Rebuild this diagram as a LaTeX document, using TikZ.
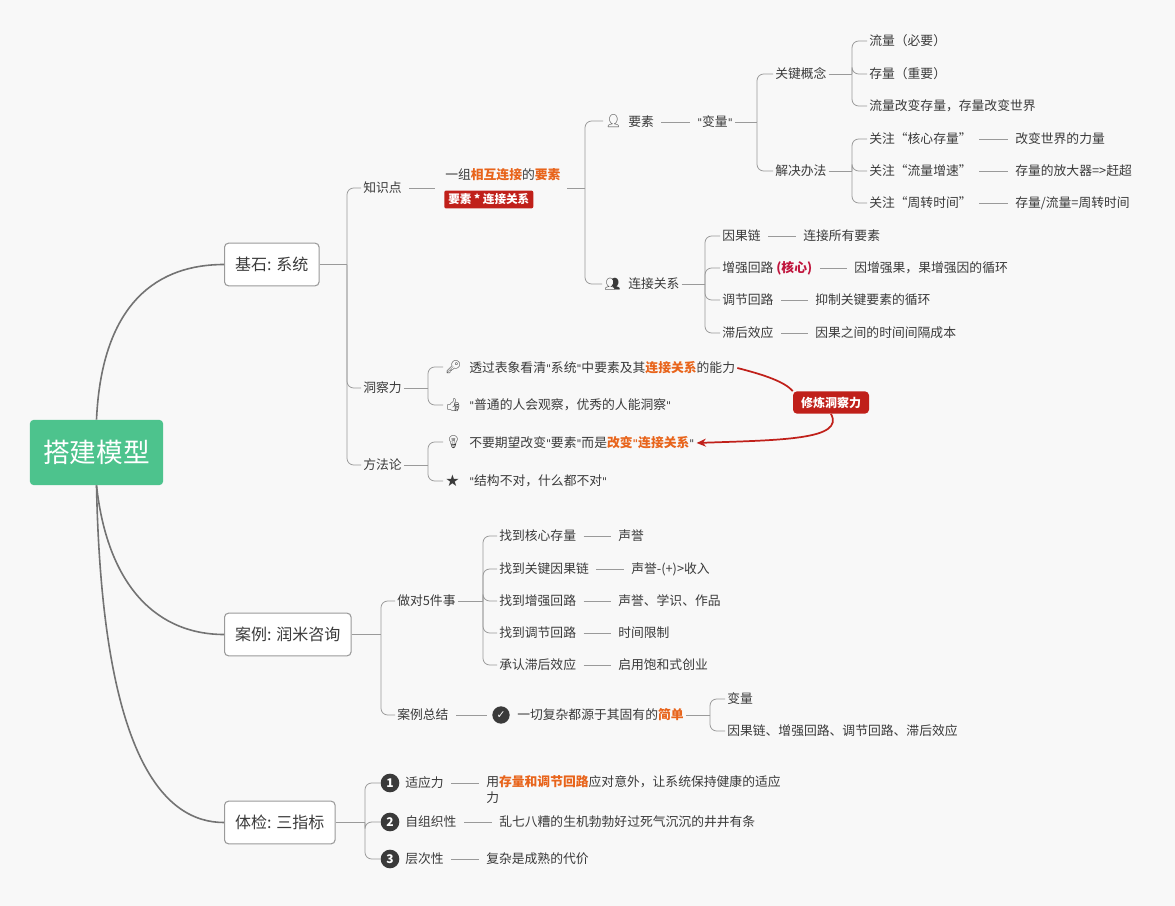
\documentclass[tikz,border=0pt]{standalone}
\usepackage{fontspec}
\defaultfontfeatures{}
\setmainfont{Noto Sans CJK SC}
\newfontfamily\emo{Noto Emoji}
\newfontfamily\dvs{DejaVu Sans}
\usetikzlibrary{arrows.meta}
\definecolor{bg}{HTML}{F8F8F8}
\definecolor{txt}{HTML}{3A3A3A}
\definecolor{lnc}{HTML}{9A9A9A}
\definecolor{org}{HTML}{E8641B}
\definecolor{tagred}{HTML}{C0201A}
\definecolor{crim}{HTML}{C0143C}
\definecolor{rootg}{HTML}{4DC38D}
\definecolor{icon}{HTML}{3A3A3A}
\newcommand\hl[1]{{\bfseries\color{org}#1}}
\newcommand\ico[1]{{\emo\bfseries\color{icon}#1}}
\newcommand\dq{{\dvs\fontsize{8}{10}\selectfont\char34}}
\begin{document}
\begin{tikzpicture}[x=0.75pt,y=-0.75pt,
  t/.style={anchor=west,inner sep=1.5pt,font=\fontsize{9.6}{12.5}\selectfont,text=txt},
  l1/.style={draw=lnc,fill=white,rounded corners=3pt,line width=0.8pt,minimum height=32pt,inner xsep=8pt,font=\fontsize{12}{14}\selectfont,text=txt,anchor=west},
  ln/.style={draw=lnc,line width=0.6pt},
  sl/.style={ln,shorten <=4pt,shorten >=4pt},
  br/.style={ln,rounded corners=5pt},
  big/.style={draw=gray!90!black,line width=1.2pt},
  num/.style={circle,fill=icon,text=white,inner sep=0pt,minimum size=14pt,font=\fontsize{9}{10}\selectfont\bfseries}]
\fill[bg] (0,0) rectangle (1175,906);
\useasboundingbox (0,0) rectangle (1175,906);

% root
\node[fill=rootg,rounded corners=3pt,minimum width=100pt,minimum height=49pt,text=white,font=\fontsize{20}{22}\selectfont] (root) at (96.5,452.5) {搭建模型};
\node[l1] (jc) at (224,264.5) {基石: 系统};
\node[l1] (al) at (224,634.5) {案例: 润米咨询};
\node[l1] (tj) at (224,822.5) {体检: 三指标};
\draw[big] (root.north) .. controls (102,300) and (160,264.5) .. (jc.west);
\draw[big] (root.south) .. controls (108,590) and (160,634.5) .. (al.west);
\draw[big] (root.south) .. controls (102,760) and (165,822.5) .. (tj.west);

% level 2 under 基石
\node[t] (zsd) at (361,188) {知识点};
\node[t] (dcl) at (361,388) {洞察力};
\node[t] (ffl) at (361,465) {方法论};
\draw[ln] (jc.east) -- (347,264.5) coordinate (b1);
\foreach \c in {zsd,dcl,ffl} \draw[br] (b1) |- (\c.west);

\node[t] (ks1) at (443,175) {一组\hl{相互连接}的\hl{要素}};
\node[fill=tagred,text=white,inner xsep=3pt,inner ysep=2.5pt,rounded corners=1.5pt,anchor=west,font=\fontsize{8.7}{10}\selectfont\bfseries] (ks2) at (444,199.5) {要素 * 连接关系};
\coordinate (ksL) at (440,188);
\coordinate (ksR) at (567,188);
\draw[sl] (zsd.east) -- (ksL);
\draw[ln] (ksR) -- (585,188) coordinate (b2);

\node[t] (ysi) at (603,121) {\ico{👤}};
\node[t] (ys) at (626,122) {要素};
\node[t] (lji) at (602,284) {\ico{👥}};
\node[t] (lj) at (626,284) {连接关系};
\draw[br] (b2) |- (ysi.west);
\draw[br] (b2) |- (lji.west);

\node[t] (bl) at (695,122) {\dq 变量\dq};
\draw[sl] (ys.east) -- (bl.west);
\draw[ln] (bl.east) -- (757,122) coordinate (b3);
\node[t] (gj) at (773,74) {关键概念};
\node[t] (jj) at (773,171) {解决办法};
\draw[br] (b3) |- (gj.west);
\draw[br] (b3) |- (jj.west);

\draw[ln] (gj.east) -- (852,74) coordinate (b4);
\node[t] (g1) at (867,41) {流量（必要）};
\node[t] (g2) at (867,74) {存量（重要）};
\node[t] (g3) at (867,106) {流量改变存量，存量改变世界};
\foreach \c in {g1,g2,g3} \draw[br] (b4) |- (\c.west);

\draw[ln] (jj.east) -- (852,171) coordinate (b5);
\node[t] (j1) at (867,139) {关注“核心存量”};
\node[t] (j2) at (867,171) {关注“流量增速”};
\node[t] (j3) at (867,203) {关注“周转时间”};
\foreach \c in {j1,j2,j3} \draw[br] (b5) |- (\c.west);
\node[t] (j1a) at (1013,139) {改变世界的力量};
\node[t] (j2a) at (1013,171) {存量的放大器=>赶超};
\node[t] (j3a) at (1013,203) {存量/流量=周转时间};
\draw[sl] (j1.east) -- (j1a.west);
\draw[sl] (j2.east) -- (j2a.west);
\draw[sl] (j3.east) -- (j3a.west);

\draw[ln] (lj.east) -- (705,284) coordinate (b6);
\node[t] (c1) at (720,236) {因果链};
\node[t] (c2) at (720,268) {增强回路 {\bfseries\color{crim}(核心)}};
\node[t] (c3) at (720,300) {调节回路};
\node[t] (c4) at (720,333) {滞后效应};
\foreach \c in {c1,c2,c3,c4} \draw[br] (b6) |- (\c.west);
\node[t] (c1a) at (801,236) {连接所有要素};
\node[t] (c2a) at (852,268) {因增强果，果增强因的循环};
\node[t] (c3a) at (813,300) {抑制关键要素的循环};
\node[t] (c4a) at (813,333) {因果之间的时间间隔成本};
\draw[sl] (c1.east) -- (c1a.west);
\draw[sl] (c2.east) -- (c2a.west);
\draw[sl] (c3.east) -- (c3a.west);
\draw[sl] (c4.east) -- (c4a.west);

% 洞察力
\draw[ln] (dcl.east) -- (428,388) coordinate (b7);
\node[t] (d1i) at (443,367) {\ico{🔑}};
\node[t] (d1) at (467,368) {透过表象看清\dq 系统\dq 中要素及其\hl{连接关系}的能力};
\node[t] (d2i) at (443,405) {\ico{👍}};
\node[t] (d2) at (467,405) {\dq 普通的人会观察，优秀的人能洞察\dq};
\draw[br] (b7) |- (d1i.west);
\draw[br] (b7) |- (d2i.west);

% 方法论
\draw[ln] (ffl.east) -- (428,465) coordinate (b8);
\node[t] (f1i) at (443,442) {\ico{💡}};
\node[t] (f1) at (467,443) {不要期望改变\dq 要素\dq 而是\hl{改变\dq 连接关系}\dq};
\node[t] (f2i) at (443,481) {{\dvs\color{icon}\fontsize{12}{12}\selectfont★}};
\node[t] (f2) at (467,481) {\dq 结构不对，什么都不对\dq};
\draw[br] (b8) |- (f1i.west);
\draw[br] (b8) |- (f2i.west);

% callout
\node[fill=tagred,text=white,rounded corners=3pt,inner xsep=6pt,inner ysep=4pt,font=\fontsize{9}{11}\selectfont\bfseries] (xl) at (831,402.5) {修炼洞察力};
\draw[tagred,line width=1.3pt] (d1.east) .. controls (765,375) and (785,382) .. (xl.north west);
\draw[tagred,line width=1.3pt,-{Stealth[length=7pt,width=6pt]}] (xl.south) .. controls (845,440) and (780,440) .. (f1.east);

% 案例
\draw[ln] (al.east) -- (381,634.5) coordinate (b9);
\node[t] (zd) at (395,601) {做对5件事};
\node[t] (zj) at (395,715) {案例总结};
\draw[br] (b9) |- (zd.west);
\draw[br] (b9) |- (zj.west);
\draw[ln] (zd.east) -- (483,601) coordinate (b10);
\node[t] (z1) at (497,536) {找到核心存量};
\node[t] (z2) at (497,569) {找到关键因果链};
\node[t] (z3) at (497,601) {找到增强回路};
\node[t] (z4) at (497,633) {找到调节回路};
\node[t] (z5) at (497,665) {承认滞后效应};
\foreach \c in {z1,z2,z3,z4,z5} \draw[br] (b10) |- (\c.west);
\node[t] (z1a) at (616,536) {声誉};
\node[t] (z2a) at (629,569) {声誉-(+)>收入};
\node[t] (z3a) at (616,601) {声誉、学识、作品};
\node[t] (z4a) at (616,633) {时间限制};
\node[t] (z5a) at (616,665) {启用饱和式创业};
\foreach \a in {1,...,5} \draw[sl] (z\a.east) -- (z\a a.west);

\node[circle,fill=icon,inner sep=0pt,minimum size=13pt,text=white,font=\dvs\fontsize{8}{8}\selectfont\bfseries] (cki) at (501,715) {✓};
\node[t] (ck) at (515,715) {一切复杂都源于其固有的\hl{简单}};
\draw[sl] (zj.east) -- (cki.west);
\draw[ln] (ck.east) -- (710,715) coordinate (b11);
\node[t] (k1) at (725,699) {变量};
\node[t] (k2) at (725,731) {因果链、增强回路、调节回路、滞后效应};
\draw[br] (b11) |- (k1.west);
\draw[br] (b11) |- (k2.west);

% 体检
\draw[ln] (tj.east) -- (365,822.5) coordinate (b12);
\node[num] (n1) at (390,783) {1};
\node[num] (n2) at (390,822) {2};
\node[num] (n3) at (390,859) {3};
\foreach \c in {n1,n2,n3} \draw[br] (b12) |- (\c.west);
\node[t] (s1) at (403,783) {适应力};
\node[t] (s2) at (403,822) {自组织性};
\node[t] (s3) at (403,859) {层次性};
\node[t,anchor=north west,align=left,text width=240pt] (s1a) at (484,773) {用\hl{存量和调节回路}应对意外，让系统保持健康的适应\\力};
\node[t] (s2a) at (497,822) {乱七八糟的生机勃勃好过死气沉沉的井井有条};
\node[t] (s3a) at (484,859) {复杂是成熟的代价};
\draw[sl] (s1.east) -- (s1a.west |- s1.east);
\draw[sl] (s2.east) -- (s2a.west);
\draw[sl] (s3.east) -- (s3a.west);
\end{tikzpicture}
\end{document}
